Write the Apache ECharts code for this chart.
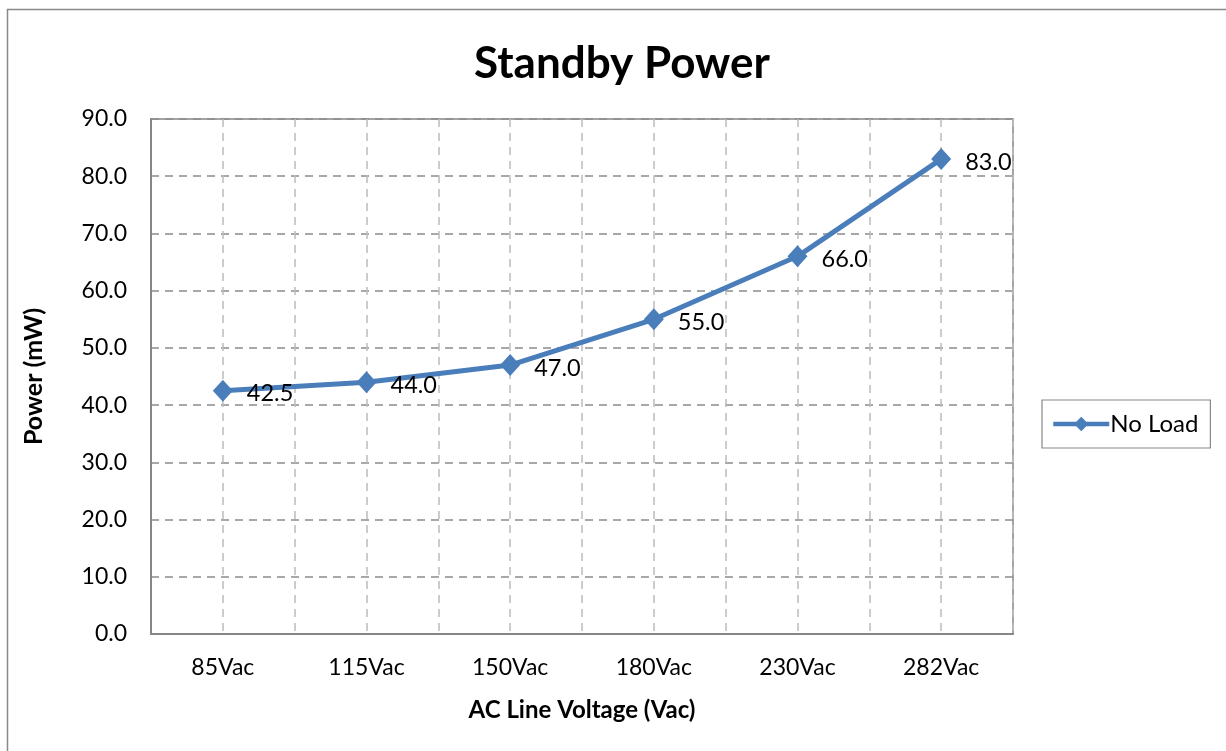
<!DOCTYPE html>
<html>
<head>
<meta charset="utf-8">
<script src="https://cdn.jsdelivr.net/npm/echarts@6/dist/echarts.min.js"></script>
<style>
html,body{margin:0;padding:0;background:#fff;}
#chart{width:1226px;height:751px;}
</style>
</head>
<body>
<div id="chart"></div>
<script>
var categories = ['85Vac', '115Vac', '150Vac', '180Vac', '230Vac', '282Vac'];
var noLoad = [42.5, 44.0, 47.0, 55.0, 66.0, 83.0];
var seriesName = 'No Load';
var yTicks = [0, 10, 20, 30, 40, 50, 60, 70, 80, 90];

var FONT = 'Lato, "Open Sans", sans-serif';
// helper axis with half-category slots, only used to draw vertical grid lines
var halfSlots = [];
categories.forEach(function (c) { halfSlots.push(c + '-a'); halfSlots.push(c + '-b'); });

var chart = echarts.init(document.getElementById('chart'));
chart.setOption({
  animation: false,
  backgroundColor: '#fff',
  title: {
    text: 'Standby Power',
    left: 617, top: 37, textAlign: 'center',
    textStyle: {fontFamily: FONT, fontSize: 44, fontWeight: 'bold', color: '#000'}
  },
  graphic: [{
    type: 'rect', left: 5, top: 7, silent: true,
    shape: {width: 1240, height: 770},
    style: {fill: 'none', stroke: '#888', lineWidth: 1.5}
  }],
  legend: {
    data: [seriesName],
    left: 1042, top: 400,
    orient: 'vertical',
    padding: [12, 12, 12, 9],
    borderColor: '#888', borderWidth: 1.2,
    itemWidth: 56, itemHeight: 18, itemGap: 0,
    lineStyle: {width: 4.5},
    textStyle: {fontFamily: FONT, fontSize: 24, color: '#000', padding: [0, 0, 0, -4]}
  },
  grid: {
    left: 151, right: 213, top: 119, bottom: 117,
    show: true, borderColor: '#868686', borderWidth: 1.5, backgroundColor: 'transparent'
  },
  xAxis: [{
    type: 'category', data: categories, boundaryGap: true, position: 'bottom',
    name: 'AC Line Voltage (Vac)', nameLocation: 'middle', nameGap: 64,
    nameTextStyle: {fontFamily: FONT, fontSize: 24, fontWeight: 'bold', color: '#000'},
    axisLine: {show: true, lineStyle: {color: '#868686', width: 2}},
    axisTick: {show: false},
    axisLabel: {fontFamily: FONT, fontSize: 23, color: '#000', margin: 22},
    splitLine: {show: false}
  }, {
    type: 'category', data: halfSlots, boundaryGap: true, position: 'bottom',
    axisLine: {show: false}, axisTick: {show: false}, axisLabel: {show: false},
    splitLine: {show: true, interval: 0, lineStyle: {color: '#bcbcbc', width: 1.5, type: [8, 6]}}
  }],
  yAxis: {
    type: 'value', min: yTicks[0], max: yTicks[yTicks.length - 1], interval: 10,
    name: 'Power (mW)', nameLocation: 'middle', nameGap: 105, nameRotate: 90,
    nameTextStyle: {fontFamily: FONT, fontSize: 25, fontWeight: 'bold', color: '#000'},
    axisLine: {show: true, lineStyle: {color: '#868686', width: 2}},
    axisTick: {show: false},
    axisLabel: {fontFamily: FONT, fontSize: 23, color: '#000', margin: 24,
      formatter: function (v) { return v.toFixed(1); }},
    splitLine: {show: true, lineStyle: {color: '#8c8c8c', width: 1.5, type: [8, 6]}}
  },
  series: [{
    name: seriesName, type: 'line', xAxisIndex: 0, data: noLoad,
    symbol: 'diamond', symbolSize: [20, 22],
    lineStyle: {color: '#4a7ebb', width: 5},
    itemStyle: {color: '#4a7ebb'},
    label: {show: true, position: 'right', distance: 14, offset: [0, 3],
      fontFamily: FONT, fontSize: 23.5, color: '#000',
      formatter: function (p) { return p.value.toFixed(1); }},
    z: 5
  }]
});
</script>
</body>
</html>
